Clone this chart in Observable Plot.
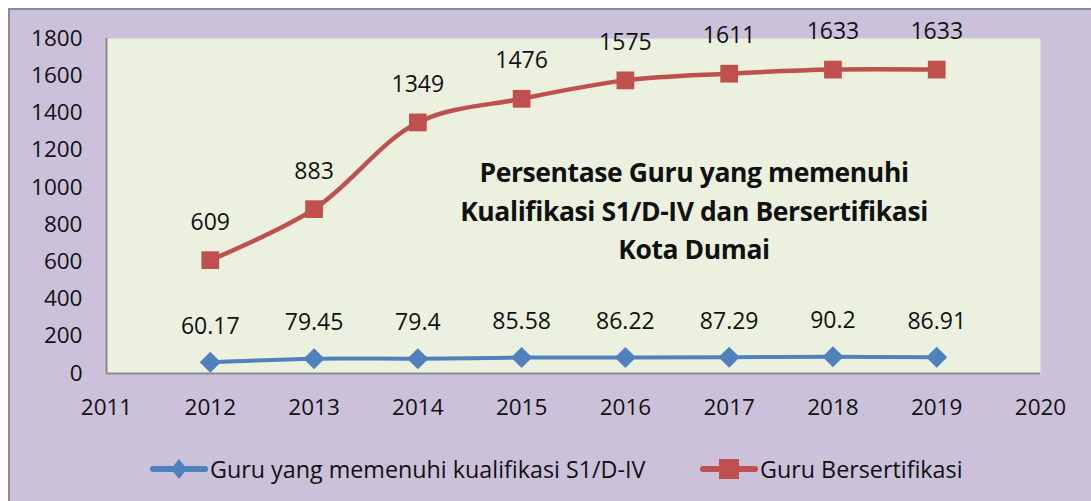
<!DOCTYPE html>
<html>
<head>
<meta charset="utf-8">
<script src="https://cdn.jsdelivr.net/npm/d3@7"></script>
<script src="https://cdn.jsdelivr.net/npm/@observablehq/plot@0.6"></script>
<style>
  html, body { margin: 0; padding: 0; background: #ffffff; }
  #wrap { position: relative; width: 1091px; height: 501px; overflow: hidden; font-family: "Open Sans", Lato, sans-serif; }
  #bg { position: absolute; left: 8px; top: 8px; width: 1100px; height: 500px; background: #CCC1DA; border-top: 2px solid #8c8c8c; border-left: 2px solid #8c8c8c; box-sizing: border-box; }
  #chart { position: absolute; left: 0; top: 0; }
  #title { position: absolute; left: 394px; width: 600px; top: 153px; text-align: center; font-weight: bold; font-size: 26.5px; line-height: 38.5px; color: #111; letter-spacing: -0.4px; }
  #legend { position: absolute; top: 453px; left: 150px; display: flex; align-items: center; font-size: 23.3px; color: #111; }
  .item { display: flex; align-items: center; }
  .item svg { display: block; }
</style>
</head>
<body>
<div id="wrap">
  <div id="bg"></div>
  <div id="chart"></div>
  <div id="title">Persentase Guru yang memenuhi<br>Kualifikasi S1/D-IV dan Bersertifikasi<br>Kota Dumai</div>
  <div id="legend"></div>
</div>
<script>
const years = [2012, 2013, 2014, 2015, 2016, 2017, 2018, 2019];
const kualifikasi = [60.17, 79.45, 79.4, 85.58, 86.22, 87.29, 90.2, 86.91];
const bersertifikasi = [609, 883, 1349, 1476, 1575, 1611, 1633, 1633];
const xTicks = [2011, 2012, 2013, 2014, 2015, 2016, 2017, 2018, 2019, 2020];
const yTicks = [0, 200, 400, 600, 800, 1000, 1200, 1400, 1600, 1800];
const seriesNames = ["Guru yang memenuhi kualifikasi S1/D-IV", "Guru Bersertifikasi"];
const colors = ["#4F81BD", "#C0504D"];

const blue = years.map((y, i) => ({year: y, value: kualifikasi[i]}));
const red = years.map((y, i) => ({year: y, value: bersertifikasi[i]}));

const chart = Plot.plot({
  width: 1091,
  height: 430,
  marginLeft: 106,
  marginRight: 51,
  marginTop: 38,
  marginBottom: 57,
  style: {background: "transparent", fontFamily: "'Open Sans', Lato, sans-serif", fontSize: "22.5px", color: "#111"},
  x: {domain: [2011, 2020], ticks: xTicks, tickFormat: "d", tickSize: 0, tickPadding: 26, label: null},
  y: {domain: [0, 1800], ticks: yTicks, tickFormat: "d", tickSize: 0, tickPadding: 24, label: null},
  marks: [
    Plot.frame({fill: "#EBF1DE", stroke: null}),
    Plot.ruleX([2011], {stroke: "#8c8c8c", strokeWidth: 2}),
    Plot.ruleY([0], {stroke: "#8c8c8c", strokeWidth: 2}),
    Plot.line(red, {x: "year", y: "value", stroke: colors[1], strokeWidth: 4.5, curve: "catmull-rom"}),
    Plot.dot(red, {x: "year", y: "value", symbol: "square", fill: colors[1], r: 10, stroke: null}),
    Plot.line(blue, {x: "year", y: "value", stroke: colors[0], strokeWidth: 4, curve: "catmull-rom"}),
    Plot.dot(blue, {x: "year", y: "value", symbol: "diamond2", fill: colors[0], r: 9.5, stroke: null}),
    Plot.text(red, {x: "year", y: "value", text: d => String(d.value), dy: -38, fontSize: 23, fill: "#111"}),
    Plot.text(blue, {x: "year", y: "value", text: d => String(d.value), dy: -36, fontSize: 23, fill: "#111"})
  ]
});
document.getElementById("chart").appendChild(chart);

// legend
const legend = document.getElementById("legend");
const symbols = ["diamond", "square"];
seriesNames.forEach((name, i) => {
  const item = document.createElement("div");
  item.className = "item";
  const ns = "http://www.w3.org/2000/svg";
  const svg = document.createElementNS(ns, "svg");
  svg.setAttribute("width", 58); svg.setAttribute("height", 24);
  const line = document.createElementNS(ns, "line");
  line.setAttribute("x1", 3); line.setAttribute("x2", 55); line.setAttribute("y1", 12); line.setAttribute("y2", 12);
  line.setAttribute("stroke", colors[i]); line.setAttribute("stroke-width", 6); line.setAttribute("stroke-linecap", "round");
  svg.appendChild(line);
  if (symbols[i] === "diamond") {
    const p = document.createElementNS(ns, "path");
    p.setAttribute("d", "M29,2 L37,12 L29,22 L21,12 Z");
    p.setAttribute("fill", colors[i]);
    svg.appendChild(p);
  } else {
    const r = document.createElementNS(ns, "rect");
    r.setAttribute("x", 19); r.setAttribute("y", 2); r.setAttribute("width", 20); r.setAttribute("height", 20);
    r.setAttribute("fill", colors[i]);
    svg.appendChild(r);
  }
  item.appendChild(svg);
  const span = document.createElement("span");
  span.style.marginLeft = "2px";
  span.textContent = name;
  item.appendChild(span);
  legend.appendChild(item);
});
// place second legend item where the reference puts it
const items = legend.querySelectorAll(".item");
const firstRight = items[0].getBoundingClientRect().right;
items[1].style.marginLeft = (700 - firstRight) + "px";
</script>
</body>
</html>
